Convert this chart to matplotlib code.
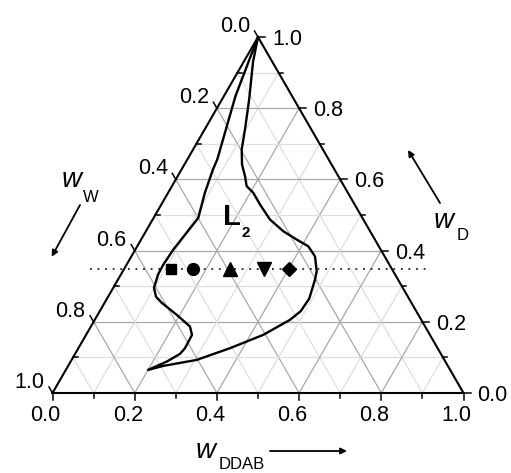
import numpy as np
import matplotlib
matplotlib.use('Agg')
import matplotlib.pyplot as plt

plt.rcParams['font.family'] = ['Liberation Sans', 'DejaVu Sans']

# ternary data: (w_DDAB, w_D), w_W = 1 - both
# boundary of the L2 region, traced as one closed loop from the D corner
loop_ddab = [0.0, 0.028, 0.0728, 0.0764, 0.0893, 0.1087, 0.1012, 0.0925, 0.0893,
             0.0905, 0.0991, 0.1166, 0.139, 0.1924, 0.2411, 0.2577, 0.2594, 0.2553,
             0.2338, 0.200,
             0.2315, 0.3044, 0.3689, 0.4312, 0.4751, 0.4890, 0.4921, 0.4795, 0.472,
             0.4467, 0.4163, 0.3787, 0.3344, 0.2855, 0.2401, 0.2073, 0.1819, 0.1637,
             0.1399, 0.1181, 0.098, 0.066, 0.023, 0.0]
loop_d = [1.0, 0.8346, 0.6563, 0.6282, 0.5634, 0.4921, 0.4507, 0.4028, 0.3606,
          0.3324, 0.2958, 0.2704, 0.2535, 0.2197, 0.1868, 0.1634, 0.1259, 0.1099,
          0.0882, 0.0648,
          0.0761, 0.093, 0.1259, 0.1634, 0.2056, 0.2300, 0.2650, 0.3183, 0.3417,
          0.3839, 0.4121, 0.431, 0.4544, 0.4873, 0.5296, 0.5625, 0.5811, 0.6093,
          0.6423, 0.6845, 0.7408, 0.825, 0.9296, 1.0]

# tie line (dotted) and the sample compositions on it
tie_d = 0.348
tie_ddab = [-0.083, 0.736]
sample_ddab = [0.115, 0.168, 0.259, 0.341, 0.401]
sample_marker = ['s', 'o', '^', 'v', 'D']
sample_size = [7.5, 8.5, 9.5, 9.5, 7.5]

ticks = [0.0, 0.2, 0.4, 0.6, 0.8, 1.0]
tick_labels = ['0.0', '0.2', '0.4', '0.6', '0.8', '1.0']

H = np.sqrt(3) / 2
PX = 411.0  # pixels per unit


def xy(ddab, d):
    ddab = np.asarray(ddab, float)
    d = np.asarray(d, float)
    return ddab + d / 2, d * H


def pos(px, py):
    # figure pixel -> data coords
    return (px - 52.5) / PX, (393 - py) / PX


fig = plt.figure(figsize=(5.11, 4.73), dpi=100)
ax = fig.add_axes([0, 0, 1, 1])
ax.set_xlim(-52.5 / PX, (511 - 52.5) / PX)
ax.set_ylim(-(473 - 393) / PX, 393 / PX)
ax.axis('off')

# grid
for i in range(1, 10):
    v = i / 10
    col = '#a8a8a8' if i % 2 == 0 else '#dedede'
    lw = 0.9
    # constant D (horizontal)
    ax.plot(*xy([0, 1 - v], [v, v]), color=col, lw=lw, zorder=1)
    # constant DDAB
    ax.plot(*xy([v, v], [0, 1 - v]), color=col, lw=lw, zorder=1)
    # constant W
    ax.plot(*xy([1 - v, 0], [0, 1 - v]), color=col, lw=lw, zorder=1)

# triangle frame
ax.plot(*xy([0, 1, 0, 0], [0, 0, 1, 0]), color='k', lw=1.5, zorder=3,
        solid_joinstyle='miter')

# ticks
for i in range(11):
    v = i / 10
    major = i % 2 == 0
    L = (7 if major else 4.5) / PX
    # bottom (DDAB)
    x0, y0 = xy(v, 0)
    ax.plot([x0, x0], [y0, y0 - L], color='k', lw=1.1, zorder=3)
    # right (D)
    x0, y0 = xy(1 - v, v)
    ax.plot([x0, x0 + L], [y0, y0], color='k', lw=1.1, zorder=3)
    # left (W)
    x0, y0 = xy(0, 1 - v)
    if major:
        ax.plot([x0, x0 - 0.5 * L], [y0, y0 + H * L], color='k', lw=1.1, zorder=3)
    else:
        ax.plot([x0, x0 + L], [y0, y0], color='k', lw=1.1, zorder=3)

fs = 15.5
for v, lab in zip(ticks, tick_labels):
    x0, y0 = xy(v, 0)
    ax.text(x0 - 7 / PX, -22 / PX, lab, fontsize=fs, ha='center', va='center')
    x0, y0 = xy(1 - v, v)
    ax.text(x0 + 14 / PX, y0, lab, fontsize=fs, ha='left', va='center_baseline')
    x0, y0 = xy(0, 1 - v)
    ax.text(x0 - 8 / PX, y0 + 5 / PX, lab, fontsize=fs, ha='right', va='baseline')

# L2 region boundary
ax.plot(*xy(loop_ddab, loop_d), color='k', lw=1.7, zorder=4,
        solid_joinstyle='round', solid_capstyle='round')

# tie line + samples
ax.plot(*xy(tie_ddab, [tie_d, tie_d]), color='#222222', lw=1.3, dashes=(1, 3.2), zorder=4)
for b, m, s in zip(sample_ddab, sample_marker, sample_size):
    ax.plot(*xy(b, tie_d), marker=m, ms=s, color='k', ls='none', zorder=5)

# phase label
ax.text(*pos(223, 225), 'L', fontsize=21, fontweight='bold', ha='left', va='baseline')
ax.text(*pos(241, 237), '2', fontsize=11, fontweight='bold', ha='left', va='baseline')

# axis titles with arrows
def title(x, y, sub, dx, dy):
    ax.text(*pos(x, y), 'w', fontsize=20, style='italic', ha='left', va='baseline')
    ax.text(*pos(x + dx, y + dy), sub, fontsize=12, ha='left', va='baseline')

title(62, 187, 'W', 21, 15)
title(434, 228, 'D', 23, 12)
title(196, 458, 'DDAB', 23, 11)

arrow = dict(arrowstyle='-|>', color='k', lw=1.3, mutation_scale=9, shrinkA=0, shrinkB=0)
ax.annotate('', xy=pos(51.7, 256.7), xytext=pos(80, 205), arrowprops=arrow)
ax.annotate('', xy=pos(408, 150), xytext=pos(440, 203), arrowprops=arrow)
ax.annotate('', xy=pos(347, 451), xytext=pos(270, 451), arrowprops=arrow)

fig.savefig('out.png', dpi=100)
